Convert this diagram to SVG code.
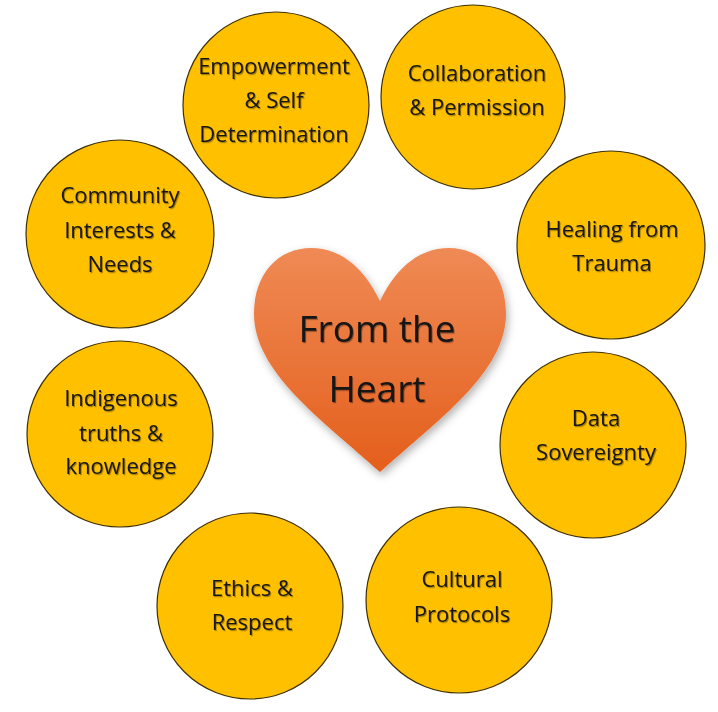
<svg xmlns="http://www.w3.org/2000/svg" width="718" height="712" viewBox="0 0 718 712">
<style>
.c{fill:#FFC000;stroke:#3d2f05;stroke-width:1.2}
.t{font-family:"Open Sans","Liberation Sans",sans-serif;font-size:22px;fill:#141414;text-anchor:middle;filter:url(#ts)}
.h{font-family:"Open Sans","Liberation Sans",sans-serif;font-size:37px;fill:#141414;text-anchor:middle;filter:url(#ts)}
</style>
<defs>
<linearGradient id="hg" x1="0" y1="0" x2="0" y2="1">
<stop offset="0" stop-color="#EF8A55"/>
<stop offset="1" stop-color="#E45F1C"/>
</linearGradient>
<filter id="hs" x="-20%" y="-20%" width="140%" height="140%">
<feDropShadow dx="2" dy="4" stdDeviation="4" flood-color="#000" flood-opacity="0.3"/>
</filter>
<filter id="ts" x="-10%" y="-30%" width="120%" height="160%">
<feDropShadow dx="1" dy="1.2" stdDeviation="0.6" flood-color="#000" flood-opacity="0.35"/>
</filter>
</defs>
<rect width="718" height="712" fill="#fff"/>
<g id="heart">
<path d="M380,301 C362,264 338,248 311,248 C278,248 254,274 254,314 C254,372 322,420 380,472 C438,420 506,372 506,314 C506,274 482,248 449,248 C422,248 398,264 380,301 Z" fill="url(#hg)" filter="url(#hs)"/>
<text class="h" x="377" y="342">From the</text>
<text class="h" x="377" y="402">Heart</text>
</g>
<g id="empowerment">
<circle class="c" cx="276" cy="105" r="93"/>
<text class="t" x="274" y="74">Empowerment</text>
<text class="t" x="274" y="108">&amp; Self</text>
<text class="t" x="274" y="142">Determination</text>
</g>
<g id="collaboration">
<circle class="c" cx="473" cy="97" r="92"/>
<text class="t" x="477" y="81">Collaboration</text>
<text class="t" x="477" y="115">&amp; Permission</text>
</g>
<g id="community">
<circle class="c" cx="120" cy="234" r="94"/>
<text class="t" x="120" y="203">Community</text>
<text class="t" x="120" y="238">Interests &amp;</text>
<text class="t" x="120" y="272">Needs</text>
</g>
<g id="healing">
<circle class="c" cx="611" cy="245" r="94"/>
<text class="t" x="612" y="237">Healing from</text>
<text class="t" x="612" y="271">Trauma</text>
</g>
<g id="indigenous">
<circle class="c" cx="120" cy="434" r="93"/>
<text class="t" x="121" y="406">Indigenous</text>
<text class="t" x="121" y="441">truths &amp;</text>
<text class="t" x="121" y="474">knowledge</text>
</g>
<g id="data">
<circle class="c" cx="593" cy="445" r="93"/>
<text class="t" x="596" y="426">Data</text>
<text class="t" x="596" y="460">Sovereignty</text>
</g>
<g id="ethics">
<circle class="c" cx="250" cy="606" r="93"/>
<text class="t" x="252" y="596">Ethics &amp;</text>
<text class="t" x="252" y="630">Respect</text>
</g>
<g id="cultural">
<circle class="c" cx="459" cy="600" r="93"/>
<text class="t" x="462" y="587">Cultural</text>
<text class="t" x="462" y="622">Protocols</text>
</g>
<g id="connectors"></g>
</svg>
